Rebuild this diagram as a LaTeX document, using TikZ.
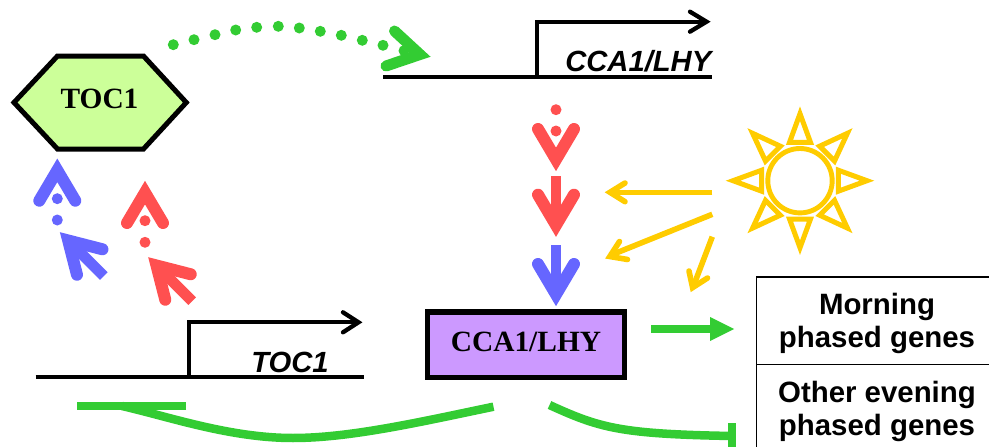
\documentclass[tikz,border=0pt]{standalone}
\usepackage{fontspec}
\setmainfont{Liberation Serif}
\setsansfont{Liberation Sans}
\definecolor{myred}{HTML}{FF5050}
\definecolor{myblue}{HTML}{6666FF}
\definecolor{mygreen}{HTML}{33CC33}
\definecolor{myyellow}{HTML}{FFCC00}
\definecolor{myhex}{HTML}{CCFF99}
\definecolor{mypurple}{HTML}{CC99FF}
\tikzset{
  chev/.style={line width=12pt,line cap=round,line join=miter,miter limit=10},
  yarrow/.style={draw=myyellow,line width=5.6pt,line join=miter},
  gene/.style={draw=black,line width=4.3pt},
  genehead/.style={draw=black,line width=4.3pt,line cap=round,line join=miter},
  gline/.style={draw=mygreen,line width=8.5pt},
  ray/.style={draw=myyellow,line width=5pt,line join=miter},
  serifbold/.style={font=\fontsize{29.4}{30}\selectfont\rmfamily\bfseries,inner sep=0pt},
  genename/.style={font=\fontsize{29.2}{30}\selectfont\sffamily\bfseries\itshape,inner sep=0pt},
  tabletext/.style={font=\fontsize{29.4}{33.5}\selectfont\sffamily\bfseries,align=center,inner sep=0pt}
}
% block arrow: tip at #1,#2; rotate #3; colour #4; shaft length #5
\newcommand{\blockarrow}[5]{%
  \begin{scope}[shift={(#1,#2)},rotate=#3]
    \draw[chev,draw=#4] (-18,-42) -- (0,-11.6) -- (18,-42);
    \ifnum#5>0 \fill[#4] (-5.4,-#5) rectangle (5.4,-15);\fi
  \end{scope}}
\begin{document}
\begin{tikzpicture}[x=1pt,y=-1pt]
\useasboundingbox (0,0) rectangle (989,447);
\begin{scope}
\clip (0,0) rectangle (989,447);
% table
\coordinate (tl) at (756.5,277);
\coordinate (tr) at (995,277);
\coordinate (bl) at (756.5,455);
\coordinate (ml) at (756.5,364.5);
\coordinate (mr) at (995,364.5);
\draw[line width=1.9pt] (tr) -- (tl) -- (bl);
\draw[line width=1.9pt] (ml) -- (mr);
% T-bar
\coordinate (tbar1) at (732.2,423);
\coordinate (tbar2) at (732.2,450);
\draw[gline] (tbar1) -- (tbar2);
\end{scope}
\node[tabletext] (morning) at (877,323.5) {Morning\\phased genes};
\node[tabletext] (other) at (877,411.5) {Other evening\\phased genes};
% gene top
\coordinate (g1a) at (383,77.3);
\coordinate (g1b) at (712,77.3);
\coordinate (g1c) at (537,77.3);
\coordinate (g1d) at (537,21.7);
\coordinate (g1e) at (707,21.7);
\draw[gene] (g1a) -- (g1b);
\draw[gene,line join=miter] (g1c) -- (g1d) -- (g1e);
\draw[genehead] (690,11.7) -- (706.5,21.7) -- (690,31.7);
\node[genename,anchor=base east] (genecca) at (711.5,71) {CCA1/LHY};
% gene bottom
\coordinate (g2a) at (35.5,377.3);
\coordinate (g2b) at (364,377.3);
\coordinate (g2c) at (189,377.3);
\coordinate (g2d) at (189,322.3);
\coordinate (g2e) at (358,322.3);
\draw[gene] (g2a) -- (g2b);
\draw[gene,line join=miter] (g2c) -- (g2d) -- (g2e);
\draw[genehead] (343,312.3) -- (358.5,322.3) -- (343,332.3);
\node[genename,anchor=base] (genetoc) at (290,372.5) {TOC1};
% TOC1 hexagon
\draw[line width=5pt,fill=myhex,line join=miter] (14,102.5) -- (57.5,56) -- (143.5,56) -- (186.3,102.5) -- (143.5,149) -- (57.5,149) -- cycle;
\node[serifbold,anchor=base] (toc) at (99.5,108) {TOC1};
% CCA1/LHY box
\node[draw=black,fill=mypurple,line width=5.3pt,minimum width=197pt,minimum height=65.4pt,inner sep=0pt] (cca) at (526.2,344.7) {};
\node[serifbold,anchor=base] (ccat) at (526,351.5) {CCA1/LHY};
% dotted green arrow
\foreach \x/\y in {173.3/44.7,194/39.7,215/34.7,235.7/30,256.7/27.3,278.3/26.3,299.3/28,320.3/31.3,341.3/35.3,362.3/40.3,383/45.3,404/50.7}
  {\fill[mygreen] (\x,\y) circle (5.5);}
\draw[chev,line width=11pt,draw=mygreen] (394.5,31) -- (420,54.5) -- (386,66);
% vertical arrows
\foreach \y in {109.7,131} {\fill[myred] (556,\y) circle (5.5);}
\blockarrow{556}{171}{0}{myred}{0}
\blockarrow{556}{236.7}{0}{myred}{61}
\blockarrow{556}{306}{0}{myblue}{61}
% up arrows
\foreach \y in {198.7,220} {\fill[myblue] (57.3,\y) circle (5.5);}
\blockarrow{57.3}{158.7}{180}{myblue}{0}
\blockarrow{60}{232.3}{-135}{myblue}{62}
\foreach \y in {220.7,242.3} {\fill[myred] (145,\y) circle (5.5);}
\blockarrow{145}{181}{180}{myred}{0}
\blockarrow{148.3}{257.3}{-135}{myred}{62}
% yellow arrows
\coordinate (y1s) at (712.3,192.3); \coordinate (y1t) at (612,192.3);
\coordinate (y2s) at (712.3,214.3); \coordinate (y2t) at (610,255.5);
\coordinate (y3s) at (712.3,236.7); \coordinate (y3t) at (693.5,286);
\draw[yarrow] (y1s) -- (y1t);
\draw[yarrow] (y2s) -- (y2t);
\draw[yarrow] (y3s) -- (y3t);
\draw[yarrow,line cap=round] (625,183) -- (610,192.3) -- (625,201.7);
\draw[yarrow,line cap=round] (619.5,241.5) -- (609.8,256.5) -- (627.5,259.5);
\draw[yarrow,line cap=round] (689,271) -- (692.6,287.6) -- (707.5,278);
% sun
\coordinate (sun) at (800,180.7);
\draw[myyellow,line width=4.9pt] (sun) circle (32.2);
\foreach \a in {0,45,...,315}{
  \begin{scope}[shift={(sun)},rotate=\a]
    \draw[ray] (67,0) -- (38.3,10.5) -- (38.3,-10.5) -- cycle;
  \end{scope}
}
% green arrow to table
\coordinate (ga1) at (651.3,329);
\coordinate (ga2) at (711,329);
\draw[gline] (ga1) -- (ga2);
\fill[mygreen] (710,317) -- (734,329) -- (710,341) -- cycle;
% green repression curves
\coordinate (c1s) at (493.5,406.7);
\coordinate (c1m) at (293,438);
\coordinate (c1e) at (122,406);
\coordinate (b1) at (186,406);
\coordinate (b2) at (76.7,406);
\draw[gline] (c1s) .. controls (420,422) and (350,438) .. (c1m) .. controls (230,438) and (170,417) .. (c1e);
\draw[gline] (b1) -- (b2);
\coordinate (c2s) at (549.5,405);
\coordinate (c2e) at (732,436);
\draw[gline] (c2s) .. controls (600,428) and (620,434) .. (c2e);
\end{tikzpicture}
\end{document}
